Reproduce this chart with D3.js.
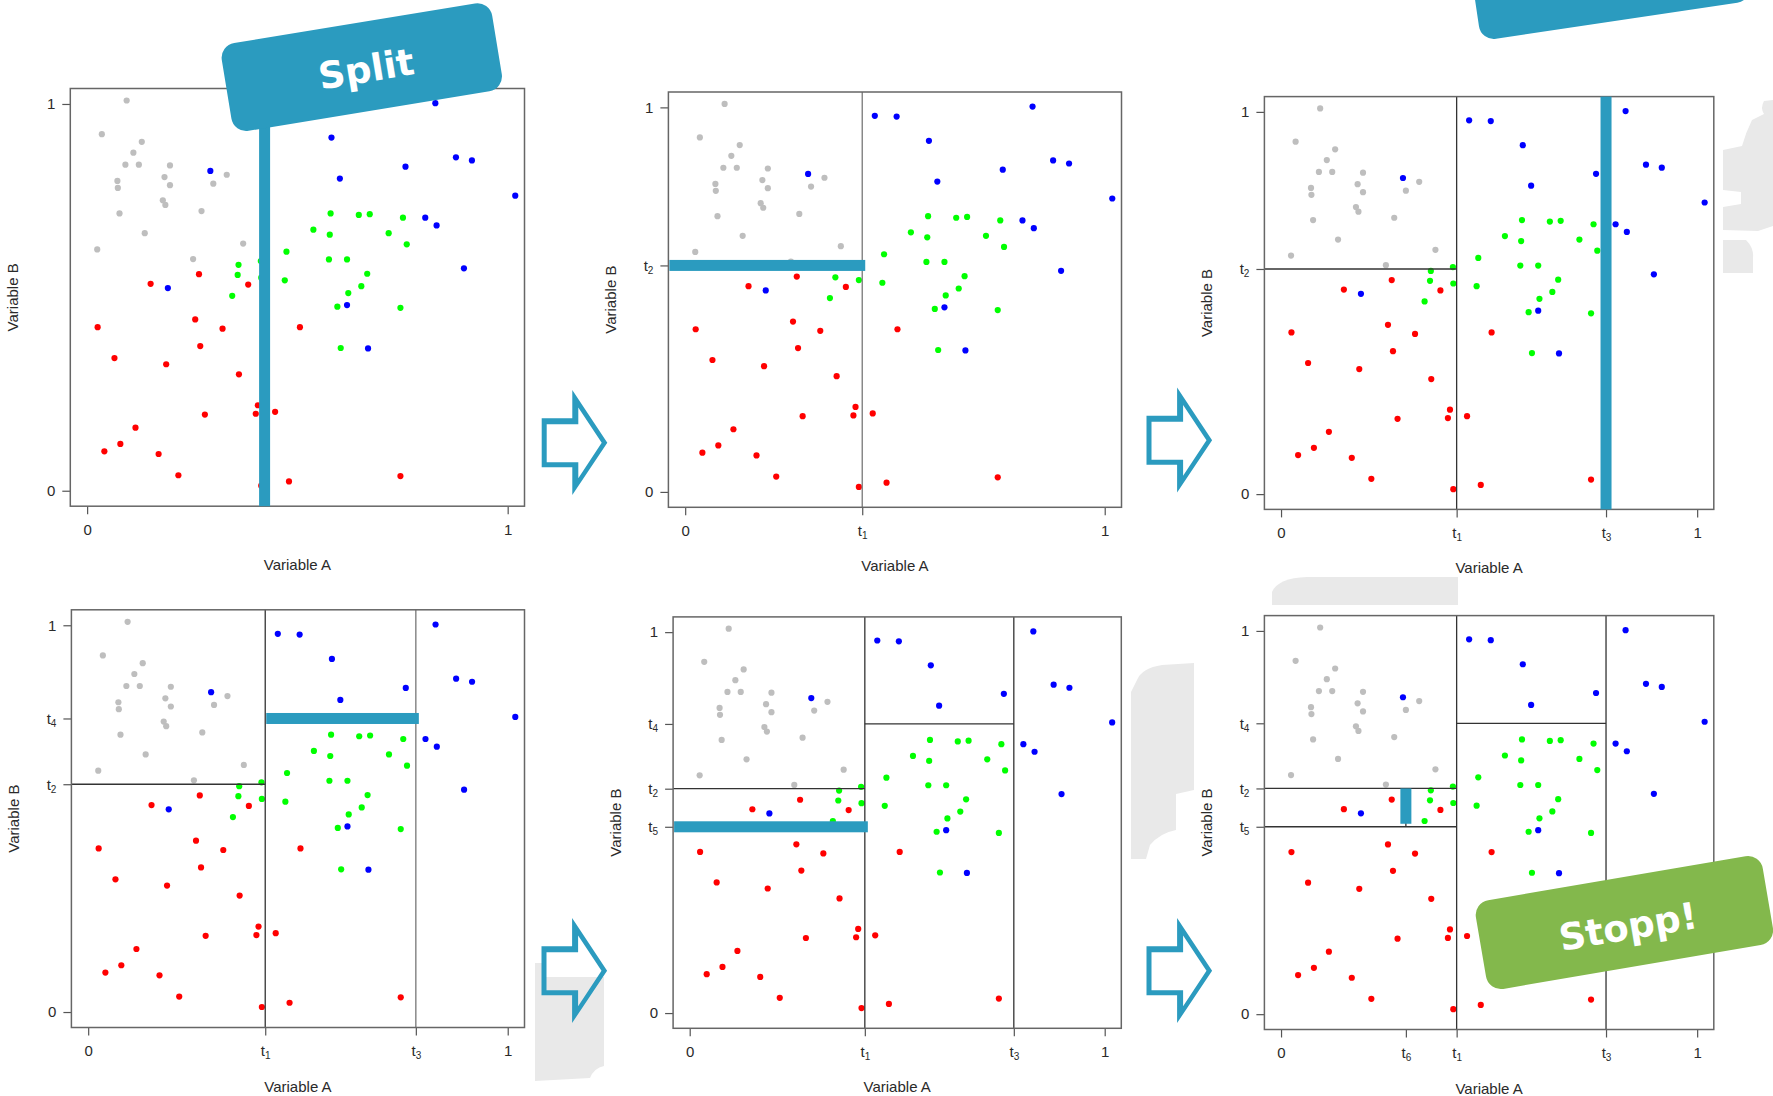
<!DOCTYPE html>
<html>
<head>
<meta charset="utf-8">
<script src="https://cdn.jsdelivr.net/npm/d3@7"></script>
<style>
  body { margin: 0; background: #fff; }
  svg { display: block; }
</style>
</head>
<body>
<svg id="fig" width="1773" height="1096"></svg>
<script>
// ---- observations (Variable A, Variable B), one list per class ----
const grayPoints = [
  [0.094,1.009],[0.035,0.922],[0.130,0.902],[0.110,0.874],[0.091,0.843],[0.123,0.843],
  [0.197,0.841],[0.332,0.817],[0.072,0.801],[0.184,0.811],[0.073,0.783],[0.197,0.790],
  [0.300,0.794],[0.180,0.751],[0.186,0.739],[0.077,0.717],[0.272,0.723],[0.137,0.666],
  [0.371,0.639],[0.024,0.624],[0.252,0.599]
];
const bluePoints = [
  [0.452,0.978],[0.504,0.976],[0.828,1.002],[0.581,0.913],[0.293,0.827],[0.601,0.807],
  [0.757,0.838],[0.877,0.862],[0.915,0.854],[1.018,0.763],[0.804,0.706],[0.831,0.686],
  [0.896,0.575],[0.192,0.524],[0.618,0.480],[0.668,0.368]
];
const greenPoints = [
  [0.579,0.717],[0.646,0.713],[0.672,0.715],[0.751,0.706],[0.538,0.675],[0.577,0.662],
  [0.717,0.666],[0.760,0.637],[0.474,0.618],[0.575,0.598],[0.618,0.598],[0.666,0.561],
  [0.358,0.558],[0.414,0.551],[0.470,0.544],[0.652,0.529],[0.621,0.511],[0.345,0.504],
  [0.595,0.476],[0.745,0.473],[0.603,0.369],[0.360,0.584],[0.413,0.594]
];
const redPoints = [
  [0.266,0.560],[0.151,0.535],[0.383,0.533],[0.257,0.443],[0.025,0.423],[0.322,0.419],
  [0.506,0.423],[0.269,0.374],[0.065,0.343],[0.188,0.327],[0.361,0.301],[0.406,0.221],
  [0.401,0.199],[0.447,0.204],[0.280,0.197],[0.115,0.163],[0.041,0.102],[0.079,0.121],
  [0.170,0.095],[0.217,0.040],[0.414,0.013],[0.480,0.024],[0.745,0.038]
];

// ---- split thresholds ----
const thresholdNames  = ["t1", "t2", "t3", "t4", "t5", "t6"];
const thresholdValues = [0.422, 0.589, 0.781, 0.759, 0.489, 0.300];

// axis end ticks
const endTickValues = [0, 1];
const endTickLabels = ["0", "1"];

// ---- labels ----
const axisTitleX = "Variable A";
const axisTitleY = "Variable B";
const splitText = "Split";
const stopText = "Stopp!";

// ------------------------------------------------------------------
const tval = {};
thresholdNames.forEach((n, i) => tval[n] = thresholdValues[i]);
const DOMAIN = [-0.04, 1.04];
const val = k => k === "min" ? DOMAIN[0] : k === "max" ? DOMAIN[1] : tval[k];

const classes = [
  { pts: grayPoints,  color: "#bebebe" },
  { pts: bluePoints,  color: "#0000ff" },
  { pts: greenPoints, color: "#00ff00" },
  { pts: redPoints,   color: "#ff0000" }
];

// one entry per step of the partitioning
const steps = [
  { frame: [70.3, 88.5, 524.5, 506.2], xt: [], yt: [],
    lines: [],
    bar: { axis: "x", at: "t1", from: "min", to: "max" } },
  { frame: [668.4, 92, 1121.5, 507.3], xt: ["t1"], yt: ["t2"],
    lines: [{ axis: "x", at: "t1", from: "min", to: "max", c: "#777" }],
    bar: { axis: "y", at: "t2", from: "min", to: "t1" } },
  { frame: [1264.4, 96.6, 1713.8, 509.4], xt: ["t1", "t3"], yt: ["t2"],
    lines: [{ axis: "x", at: "t1", from: "min", to: "max" },
            { axis: "y", at: "t2", from: "min", to: "t1" }],
    bar: { axis: "x", at: "t3", from: "min", to: "max" } },
  { frame: [71.4, 609.8, 524.5, 1027.5], xt: ["t1", "t3"], yt: ["t2", "t4"],
    lines: [{ axis: "x", at: "t1", from: "min", to: "max" },
            { axis: "x", at: "t3", from: "min", to: "max", c: "#777" },
            { axis: "y", at: "t2", from: "min", to: "t1" }],
    bar: { axis: "y", at: "t4", from: "t1", to: "t3" } },
  { frame: [673.1, 616.9, 1121.3, 1028.3], xt: ["t1", "t3"], yt: ["t5", "t2", "t4"],
    lines: [{ axis: "x", at: "t1", from: "min", to: "max" },
            { axis: "x", at: "t3", from: "min", to: "max" },
            { axis: "y", at: "t2", from: "min", to: "t1" },
            { axis: "y", at: "t4", from: "t1", to: "t3" }],
    bar: { axis: "y", at: "t5", from: "min", to: "t1" } },
  { frame: [1264.4, 615.6, 1713.8, 1029.5], xt: ["t6", "t1", "t3"], yt: ["t5", "t2", "t4"],
    lines: [{ axis: "x", at: "t1", from: "min", to: "max" },
            { axis: "x", at: "t3", from: "min", to: "max" },
            { axis: "y", at: "t2", from: "min", to: "t1" },
            { axis: "y", at: "t4", from: "t1", to: "t3" },
            { axis: "y", at: "t5", from: "min", to: "t1" },
            { axis: "x", at: "t6", from: "t5", to: "t2" }],
    bar: { axis: "x", at: "t6", from: "t2", to: "t5", trim: 3 } }
];

const BLUE = "#2b9bbf";
const GREEN = "#83b84c";
const FONT = "'Liberation Sans', Arial, sans-serif";
const svg = d3.select("#fig");

// ---- light background smudges ----
const smudges = [
  "M1773,100 L1764,101 Q1760,108 1764,114 L1752,120 Q1746,132 1742,146 L1723,150 L1723,190 L1741,192 L1741,204 L1723,207 L1723,230 L1758,231 L1773,226 Z",
  "M1723,240 L1746,240 Q1754,248 1753,258 L1753,273 L1723,273 Z",
  "M535,963 L544,963 L544,977 L604,977 L604,1066 Q594,1068 590,1078 L535,1081 Z",
  "M1137,680 Q1142,668 1162,665 L1194,663 L1194,790 L1176,794 L1176,830 Q1160,833 1150,845 L1146,859 L1131,859 L1131,692 Z",
  "M1272,592 Q1278,578 1307,577 L1458,577 L1458,605 L1272,605 Z"
];
svg.append("g").selectAll("path").data(smudges).join("path")
  .attr("d", d => d).attr("fill", "#e9e9e9");

// tick label with subscript digit
function tickLabel(sel, name) {
  sel.text(null);
  if (name.startsWith("t")) {
    sel.append("tspan").text("t");
    sel.append("tspan").text(name.slice(1))
      .attr("font-size", 10).attr("dy", 3);
  } else {
    sel.text(name);
  }
}

steps.forEach(step => {
  const [L, T, R, B] = step.frame;
  const x = d3.scaleLinear().domain(DOMAIN).range([L, R]);
  const y = d3.scaleLinear().domain(DOMAIN).range([B, T]);
  const g = svg.append("g");

  // tick sets: ends plus thresholds used so far
  const xNames = endTickLabels.concat(step.xt);
  const xVals = endTickValues.concat(step.xt.map(n => tval[n]));
  const yNames = endTickLabels.concat(step.yt);
  const yVals = endTickValues.concat(step.yt.map(n => tval[n]));

  const xAxis = d3.axisBottom(x).tickValues(xVals).tickSize(8).tickPadding(10);
  const yAxis = d3.axisLeft(y).tickValues(yVals).tickSize(8).tickPadding(7);

  const gx = g.append("g").attr("transform", `translate(0,${B})`).call(xAxis);
  const gy = g.append("g").attr("transform", `translate(${L},0)`).call(yAxis);
  [gx, gy].forEach(a => {
    a.select(".domain").remove();
    a.selectAll(".tick line").attr("stroke", "#555").attr("stroke-width", 1.2);
    a.selectAll(".tick text").attr("fill", "#2a2a2a")
      .attr("font-family", FONT).attr("font-size", 15);
  });
  gx.selectAll(".tick text").each(function(d, i) { tickLabel(d3.select(this), xNames[i]); });
  gy.selectAll(".tick text").each(function(d, i) { tickLabel(d3.select(this), yNames[i]); });

  // axis titles
  g.append("text").attr("x", (L + R) / 2).attr("y", B + 64)
    .attr("text-anchor", "middle").attr("font-family", FONT).attr("font-size", 15)
    .attr("fill", "#2a2a2a").text(axisTitleX);
  g.append("text")
    .attr("transform", `translate(${L - 52},${(T + B) / 2}) rotate(-90)`)
    .attr("text-anchor", "middle").attr("font-family", FONT).attr("font-size", 15)
    .attr("fill", "#2a2a2a").text(axisTitleY);

  // points
  classes.forEach(c => {
    g.append("g").selectAll("circle").data(c.pts).join("circle")
      .attr("cx", d => x(d[0])).attr("cy", d => y(d[1]))
      .attr("r", 3.1).attr("fill", c.color);
  });

  // partition lines from previous splits
  step.lines.forEach(l => {
    const ln = g.append("line").attr("stroke", l.c || "#333").attr("stroke-width", 1.3);
    if (l.axis === "x") {
      ln.attr("x1", x(val(l.at))).attr("x2", x(val(l.at)))
        .attr("y1", y(val(l.from))).attr("y2", y(val(l.to)));
    } else {
      ln.attr("y1", y(val(l.at))).attr("y2", y(val(l.at)))
        .attr("x1", x(val(l.from))).attr("x2", x(val(l.to)));
    }
  });

  // plot frame
  g.append("rect").attr("x", L).attr("y", T).attr("width", R - L).attr("height", B - T)
    .attr("fill", "none").attr("stroke", "#666").attr("stroke-width", 1.5);

  // highlighted current split
  const b = step.bar, W = 11, trim = b.trim || 0;
  if (b.axis === "x") {
    const ya = y(val(b.from)), yb = y(val(b.to));
    g.append("rect").attr("x", x(val(b.at)) - W / 2).attr("width", W)
      .attr("y", Math.min(ya, yb)).attr("height", Math.abs(yb - ya) - trim)
      .attr("fill", BLUE);
  } else {
    const xa = x(val(b.from)), xb = x(val(b.to));
    g.append("rect").attr("y", y(val(b.at)) - W / 2).attr("height", W)
      .attr("x", Math.min(xa, xb) + 1).attr("width", Math.abs(xb - xa) + 2)
      .attr("fill", BLUE);
  }
});

// ---- outline arrows between steps ----
const arrowOuter = [[0,28.3],[30.6,28.3],[30.6,0],[65.6,52.7],[30.6,105],[30.6,77.3],[0,77.3]];
const arrowInner = [[5,34.3],[36.6,34.3],[36.6,17.5],[60,52.7],[36.6,88.3],[36.6,72.3],[5,72.3]];
const arrowSpots = [[541.7, 390], [1146.5, 387.5], [541.5, 918], [1146.5, 918]];
const poly = p => "M" + p.map(q => q.join(",")).join("L") + "Z";
svg.append("g").selectAll("path").data(arrowSpots).join("path")
  .attr("transform", d => `translate(${d[0]},${d[1]})`)
  .attr("d", poly(arrowOuter) + poly(arrowInner))
  .attr("fill-rule", "evenodd").attr("fill", BLUE);

// ---- tilted tags ----
function tag(cx, cy, w, h, angle, fill, text, tdx, tdy) {
  const t = svg.append("g").attr("transform", `translate(${cx},${cy}) rotate(${angle})`);
  t.append("rect").attr("x", -w / 2).attr("y", -h / 2).attr("width", w).attr("height", h)
    .attr("rx", 15).attr("fill", fill);
  if (text) {
    t.append("text").attr("x", tdx).attr("y", tdy).attr("text-anchor", "middle")
      .attr("dominant-baseline", "central")
      .attr("font-family", "'DejaVu Sans', Verdana, sans-serif").attr("font-weight", "bold")
      .attr("font-size", 37).attr("fill", "#fff").text(text);
  }
}
tag(361.8, 67.1, 274, 89, -9.33, BLUE, splitText, 4, 3);
tag(1610.1, -23.3, 274, 89, -8.5, BLUE, null);
tag(1624.4, 922.6, 291, 90, -9.67, GREEN, stopText, 3, 5);
</script>
</body>
</html>
